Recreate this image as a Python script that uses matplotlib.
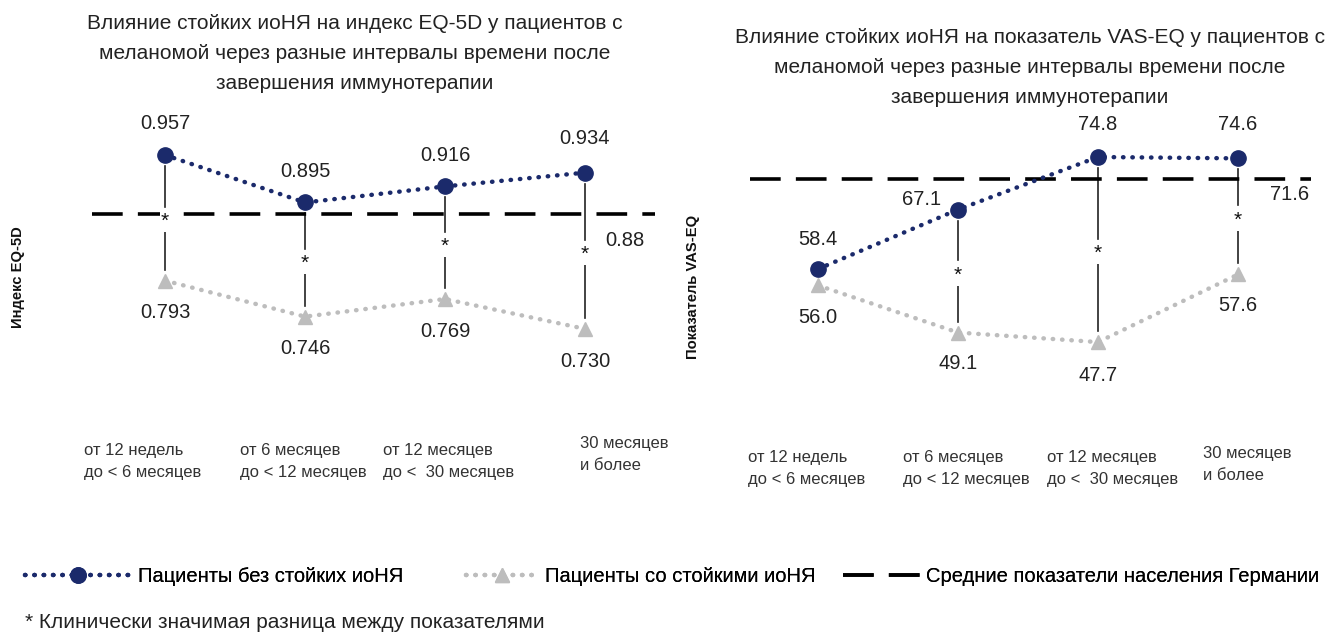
import matplotlib.pyplot as plt
from matplotlib.lines import Line2D

plt.rcParams['font.family'] = ['Liberation Sans', 'DejaVu Sans']

# Данные
categories = ["от 12 недель\nдо < 6 месяцев", "от 6 месяцев\nдо < 12 месяцев",
              "от 12 месяцев\nдо <  30 месяцев", "30 месяцев\nи более"]
eq5d_no_irae = [0.957, 0.895, 0.916, 0.934]
eq5d_irae = [0.793, 0.746, 0.769, 0.730]
eq5d_germany = 0.88
eq5d_signif = [True, True, True, True]

vas_no_irae = [58.4, 67.1, 74.8, 74.6]
vas_irae = [56.0, 49.1, 47.7, 57.6]
vas_germany = 71.6
vas_signif = [False, True, True, True]

NAVY = '#1b2a6b'
GRAY = '#bdbdbd'
DOTS = (0, (0.1, 2.0))
DASH = (8.5, 4.2)
W, H = 1335, 635


def px_rect(x0, y0, x1, y1):
    return [x0 / W, 1 - y1 / H, (x1 - x0) / W, (y1 - y0) / H]


fig = plt.figure(figsize=(W / 100, H / 100), dpi=100)


def panel(rect, ylim, xlim, ref_span, no_irae, irae, ref, signif, fmt,
          off_top, off_bot, off_ref, cat_pos, title, title_xy, ylabel, ylabel_xy):
    ax = fig.add_axes(rect)
    ax.set_xlim(*xlim)
    ax.set_ylim(*ylim)
    ax.axis('off')
    x = range(len(no_irae))

    # средние показатели населения
    ax.plot(ref_span, [ref, ref], color='black', lw=2.6, dashes=DASH, zorder=2)

    ax.plot(x, irae, linestyle=DOTS, dash_capstyle='round', color=GRAY, lw=3.2,
            marker='^', ms=10.5, mfc=GRAY, mec=GRAY, zorder=3)
    ax.plot(x, no_irae, linestyle=DOTS, dash_capstyle='round', color=NAVY, lw=3.2,
            marker='o', ms=11, mfc=NAVY, mec=NAVY, zorder=4)

    # вертикальные линии со звёздочками
    gap = (ylim[1] - ylim[0]) * 11 / 320
    for i, s in enumerate(signif):
        if not s:
            continue
        hi, lo = no_irae[i], irae[i]
        mid = (hi + lo) / 2
        ax.plot([i, i], [hi - gap, mid + gap], color='#222222', lw=1.2, zorder=1)
        ax.plot([i, i], [mid - gap, lo + gap], color='#222222', lw=1.2, zorder=1)
        ax.annotate('*', (i, mid), xytext=(0, -4), textcoords='offset pixels',
                    ha='center', va='center', fontsize=15, color='#111111', zorder=5,
                    bbox=dict(boxstyle='square,pad=0.05', fc='white', ec='none'))

    for i in x:
        ax.annotate(fmt.format(no_irae[i]), (i, no_irae[i]), xytext=off_top[i],
                    textcoords='offset pixels', ha='center', va='center',
                    fontsize=14.5, color='#222222')
        ax.annotate(fmt.format(irae[i]), (i, irae[i]), xytext=off_bot[i],
                    textcoords='offset pixels', ha='center', va='center',
                    fontsize=14.5, color='#222222')
    ax.annotate(f'{ref:g}', (len(no_irae) - 1, ref), xytext=off_ref,
                textcoords='offset pixels', ha='center', va='center',
                fontsize=14.5, color='#222222')

    for (cx, cy), lab in zip(cat_pos, categories):
        fig.text(cx / W, 1 - cy / H, lab, ha='left', va='top', fontsize=12,
                 color='#333333', linespacing=1.6)

    fig.text(title_xy[0] / W, 1 - title_xy[1] / H, title, ha='center', va='top',
             fontsize=15, color='#222222', linespacing=1.72)
    fig.text(ylabel_xy[0] / W, 1 - ylabel_xy[1] / H, ylabel, ha='center', va='center',
             rotation=90, fontsize=10.6, fontweight='bold', color='#111111')
    return ax


# EQ-5D
panel(px_rect(80, 100, 670, 420),
      (0.957 - 265 / 766, 0.957 + 55 / 766), (-85 / 140, 505 / 140), (-0.52, 3.5),
      eq5d_no_irae, eq5d_irae, eq5d_germany, eq5d_signif, '{:.3f}',
      [(0, 31), (0, 31), (0, 31), (0, 34)], [(0, -32), (0, -32), (0, -32), (0, -33)],
      (40, -27),
      [(84, 443), (240, 443), (383, 443), (580, 436)],
      'Влияние стойких иоНЯ на индекс EQ-5D у пациентов с\n'
      'меланомой через разные интервалы времени после\nзавершения иммунотерапии',
      (355, 14), 'Индекс EQ-5D', (18, 277))

# VAS-EQ
panel(px_rect(735, 100, 1325, 420),
      (74.8 - 263 / 6.83, 74.8 + 57 / 6.83), (-83 / 140, 507 / 140), (-0.486, 3.52),
      vas_no_irae, vas_irae, vas_germany, vas_signif, '{:.1f}',
      [(0, 30), (-36, 10), (0, 33), (0, 34)], [(0, -32), (0, -31), (0, -33), (0, -31)],
      (52, -16),
      [(748, 450), (903, 450), (1047, 450), (1203, 446)],
      'Влияние стойких иоНЯ на показатель VAS-EQ у пациентов с\n'
      'меланомой через разные интервалы времени после\nзавершения иммунотерапии',
      (1030, 28), 'Показатель VAS-EQ', (693, 287))

# Легенда: три отдельных элемента
legend_items = [
    (Line2D([], [], linestyle=DOTS, dash_capstyle='round', color=NAVY, lw=3.2,
            marker='o', ms=11, mfc=NAVY, mec=NAVY),
     'Пациенты без стойких иоНЯ', 25, 5.3),
    (Line2D([], [], linestyle=DOTS, dash_capstyle='round', color=GRAY, lw=3.2,
            marker='^', ms=10.5, mfc=GRAY, mec=GRAY),
     'Пациенты со стойкими иоНЯ', 466, 3.6),
    (Line2D([], [], color='black', lw=2.6, dashes=DASH),
     'Средние показатели населения Германии', 843, 3.8),
]
for handle, label, lx, hl in legend_items:
    leg = fig.legend([handle], [label], loc='center left',
                     bbox_to_anchor=(lx / W, 1 - 577 / H), frameon=False,
                     fontsize=14.5, handlelength=hl, handletextpad=0.3,
                     borderpad=0, borderaxespad=0)
    fig.add_artist(leg)

fig.text(25 / W, 1 - 622 / H, '* Клинически значимая разница между показателями',
         ha='left', va='center', fontsize=15, color='#222222')

fig.savefig('out.png', dpi=100, facecolor='white')
